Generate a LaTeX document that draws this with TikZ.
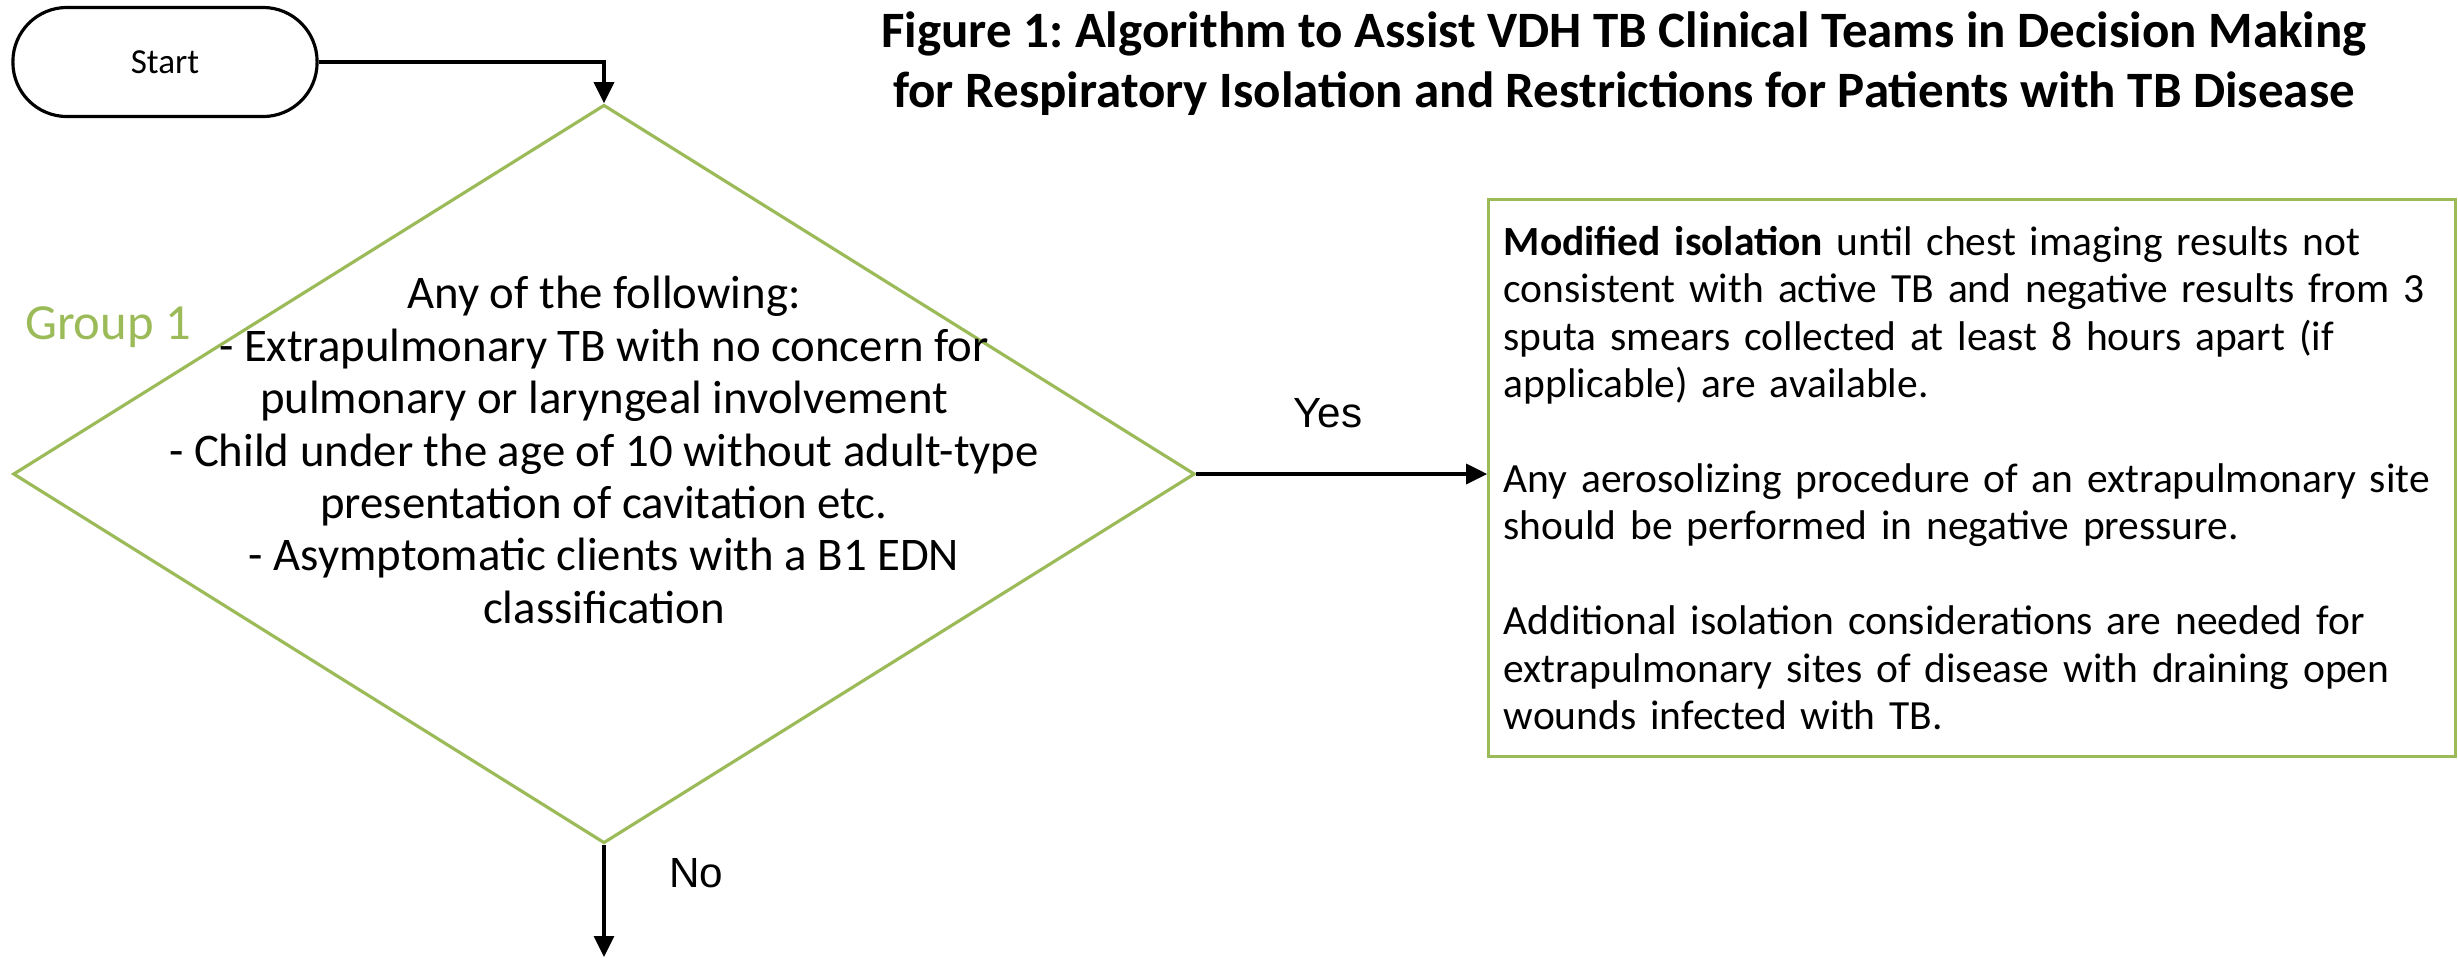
\documentclass[tikz,border=0pt]{standalone}
\usepackage{fontspec}
\setmainfont{Carlito}
\newfontfamily\arialfont{Liberation Sans}
\usetikzlibrary{shapes.geometric,arrows.meta}
\definecolor{olivegreen}{RGB}{155,187,89}
\frenchspacing

\begin{document}
\begin{tikzpicture}[x=0.01cm,y=-0.01cm,>={Triangle[width=2mm,length=2.1mm]},
  every node/.style={font=\fontsize{13.3}{14.9}\selectfont},
  terminal/.style={draw,line width=0.9pt,rounded corners=5.4mm,minimum width=3.04cm,
    minimum height=1.09cm,font=\fontsize{10}{12}\selectfont},
  decision/.style={diamond,draw=olivegreen,line width=0.9pt,minimum width=11.81cm,
    minimum height=7.38cm,inner sep=0pt},
  notebox/.style={draw=olivegreen,line width=0.9pt,minimum width=9.66cm,minimum height=5.57cm,
    text width=9.36cm,align=left,inner xsep=1.5mm,font=\fontsize{11.8}{13.5}\selectfont},
  answer/.style={font=\arialfont\fontsize{12}{14}\selectfont},
  flow/.style={->,line width=0.9pt}]
  \useasboundingbox (0,0) rectangle (2458,957);

  % title
  \node[align=center,font=\fontsize{14.5}{17}\selectfont\bfseries] (title) at (1624,64)
    {Figure 1: Algorithm to Assist VDH TB Clinical Teams in Decision Making\\
     for Respiratory Isolation and Restrictions for Patients with TB Disease};

  % flow
  \node[terminal] (start) at (165,62) {Start};
  \node[decision] (dec) at (604,474) {};
  \node[align=center] (crit) at (604,450)
    {Any of the following:\\
     - Extrapulmonary TB with no concern for\\
     pulmonary or laryngeal involvement\\
     - Child under the age of 10 without adult-type\\
     presentation of cavitation etc.\\
     - Asymptomatic clients with a B1 EDN\\
     classification};
  \node[text=olivegreen,font=\fontsize{14.4}{17}\selectfont] (grp) at (108,327) {Group 1};
  \node[notebox] (note) at (1972,478)
    {\textbf{Modified isolation} until chest imaging results not\\
     consistent with active TB and negative results from 3\\
     sputa smears collected at least 8 hours apart (if\\
     applicable) are available.\\[13.5pt]
     Any aerosolizing procedure of an extrapulmonary site\\
     should be performed in negative pressure.\\[13.5pt]
     Additional isolation considerations are needed for\\
     extrapulmonary sites of disease with draining open\\
     wounds infected with TB.};
  \coordinate (down) at (604,957);

  \draw[flow] (start.east) -| (dec.north);
  \draw[flow] (dec.east) -- (dec.east -| note.west);
  \draw[flow] (dec.south) -- (down);
  \node[answer] (yes) at (1328,413) {Yes};
  \node[answer] (no) at (696,873) {No};
\end{tikzpicture}
\end{document}
